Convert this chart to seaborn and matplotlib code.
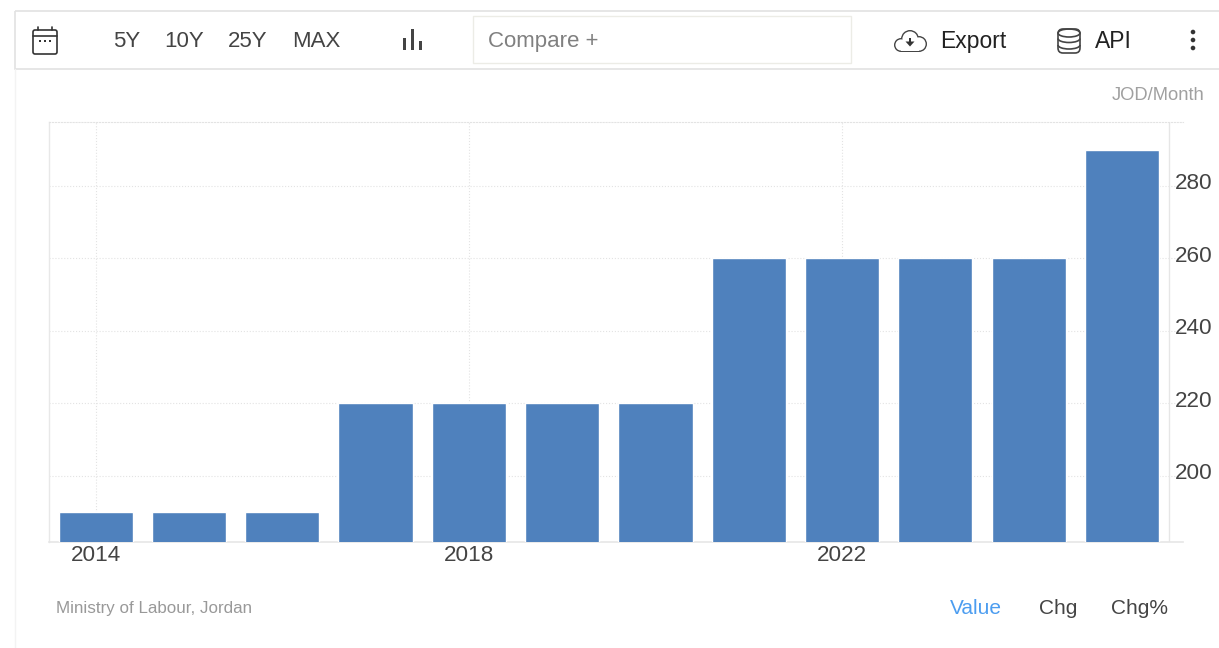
import matplotlib
matplotlib.use('Agg')
import matplotlib.pyplot as plt
import matplotlib.transforms as mtrans
import seaborn as sns
import pandas as pd
from matplotlib.patches import Rectangle, FancyBboxPatch, Ellipse, Circle, Polygon, Arc

years = ['2014', '2015', '2016', '2017', '2018', '2019', '2020', '2021', '2022', '2023', '2024', '2025']
wages = [190, 190, 190, 220, 220, 220, 220, 260, 260, 260, 260, 290]
y_ticks = [200, 220, 240, 260, 280]
year_ticks = ['2014', '2018', '2022']
range_buttons = ['5Y', '10Y', '25Y', 'MAX']
view_tabs = ['Value', 'Chg', 'Chg%']

W, H = 1219, 648
BAR = '#4f81bd'
GRID = '#e3e3e3'
TXT = '#444444'

sns.set_theme(style='white')
plt.rcParams['font.family'] = ['Liberation Sans', 'DejaVu Sans']

df = pd.DataFrame({'year': years, 'wage': wages})

fig = plt.figure(figsize=(W / 100, H / 100), dpi=100, facecolor='white')

# plot area runs a bit past the right axis line, the grid does too
ax = fig.add_axes([49 / W, 1 - 542 / H, (1183 - 49) / W, (542 - 122) / H])
sns.barplot(data=df, x='year', y='wage', color=BAR, saturation=1, width=0.795, ax=ax, zorder=3)

ax.set_xlim(-0.50, 11.655)
ax.set_ylim(181.8, 297.6)
ax.set_xlabel(None)
ax.set_ylabel(None)

ax.set_xticks([years.index(y) for y in year_ticks])
ax.set_xticklabels(year_ticks, fontsize=16.2, color=TXT)
ax.yaxis.tick_right()
ax.set_yticks(y_ticks)
ax.set_yticklabels([str(v) for v in y_ticks], fontsize=16.2, color=TXT)
ax.tick_params(axis='x', length=0, pad=2.5)
ax.tick_params(axis='y', length=0, pad=-5.8)

# value labels sit slightly above their gridlines
up = mtrans.ScaledTranslation(0, 3.5 / 72, fig.dpi_scale_trans)
for lab in ax.get_yticklabels():
    lab.set_transform(lab.get_transform() + up)

ax.grid(True, color=GRID, linestyle=':', linewidth=0.8, zorder=0)
ax.set_axisbelow(True)
ax.spines['right'].set_visible(False)
ax.spines['top'].set_color(GRID)
ax.spines['top'].set_linestyle(':')
ax.spines['top'].set_linewidth(0.8)
ax.spines['left'].set_color('#e8e8e8')
ax.spines['left'].set_linewidth(1)
ax.spines['bottom'].set_color('#e6e6e6')
ax.spines['bottom'].set_linewidth(1.2)
ax.axvline(11.5, color='#e6e6e6', linewidth=1, zorder=1)

# page furniture on top, in pixel coordinates
ui = fig.add_axes([0, 0, 1, 1], zorder=5)
ui.set_xlim(0, W)
ui.set_ylim(H, 0)
ui.axis('off')
ui.patch.set_alpha(0)

ui.add_patch(Rectangle((14.5, 10.5), W, 58.5, fc='none', ec='#e2e2e2', lw=1.2))
ui.plot([14.5, 14.5], [69, H], color='#f3f3f3', lw=1)
ui.add_patch(Rectangle((473, 16), 378, 47, fc='white', ec='#ecece6', lw=1))

ui.text(488, 41, 'Compare +', fontsize=16, color='#808080', va='center', ha='left')
for label, cx in zip(range_buttons, [127, 184.5, 248, 316.5]):
    ui.text(cx, 41.5, label, fontsize=16, color=TXT, va='center', ha='center')
ui.text(940, 41.5, 'Export', fontsize=16.5, color='#222222', va='center', ha='left')
ui.text(1095, 41, 'API', fontsize=16.5, color='#222222', va='center', ha='left')
ui.text(1204, 95, 'JOD/Month', fontsize=13.2, color='#a0a0a0', va='center', ha='right')
ui.text(56, 608, 'Ministry of Labour, Jordan', fontsize=12.25, color='#999999', va='center', ha='left')
for label, cx, col in zip(view_tabs, [976, 1058, 1140], ['#4c9df0', TXT, TXT]):
    ui.text(cx, 608.5, label, fontsize=15, color=col, va='center', ha='center')

# calendar icon
ui.add_patch(FancyBboxPatch((33, 30), 24, 24, boxstyle='round,pad=0,rounding_size=2', fc='none', ec='#333333', lw=1.2))
ui.plot([33, 57], [36, 36], color='#333333', lw=1.2)
ui.plot([38, 38], [27, 30], color='#333333', lw=1.2)
ui.plot([52, 52], [27, 30], color='#333333', lw=1.2)
for dx in [40, 45, 50]:
    ui.add_patch(Rectangle((dx - 1, 40), 2, 2, fc='#333333', ec='none'))

# chart type icon
for bx, top in zip([404, 412, 420], [38, 29, 41]):
    ui.add_patch(Rectangle((bx - 1.5, top), 3, 50 - top, fc='#444444', ec='none'))

# cloud: outlined shapes, then the same shapes in white to leave only the outer edge
bumps = [(901, 45, 7), (910, 39, 9), (919, 44, 8)]
for cx, cy, r in bumps:
    ui.add_patch(Circle((cx, cy), r, fc='#444444', ec='none', zorder=2))
ui.add_patch(Rectangle((901, 42), 18, 10, fc='#444444', ec='none', zorder=2))
for cx, cy, r in bumps:
    ui.add_patch(Circle((cx, cy), r - 1.4, fc='white', ec='none', zorder=3))
ui.add_patch(Rectangle((901, 42), 18, 8.6, fc='white', ec='none', zorder=3))
ui.add_patch(Polygon([[905.5, 41.5], [914.5, 41.5], [910, 46.5]], fc='#333333', ec='none', zorder=4))
ui.add_patch(Rectangle((908.8, 37.5), 2.4, 5, fc='#333333', ec='none', zorder=4))

# database icon
ui.add_patch(FancyBboxPatch((1058, 29), 22, 24, boxstyle='round,pad=0,rounding_size=5', fc='none', ec='#444444', lw=1.2))
ui.add_patch(Ellipse((1069, 33), 22, 8, fc='none', ec='#444444', lw=1.2))
for cy in [38.5, 45]:
    ui.add_patch(Arc((1069, cy), 22, 8, theta1=0, theta2=180, ec='#444444', lw=1.2))

# menu dots
for cy in [32, 40, 48]:
    ui.add_patch(Circle((1193, cy), 2.3, fc='#333333', ec='none'))

fig.savefig('out.png', dpi=100, facecolor='white')
